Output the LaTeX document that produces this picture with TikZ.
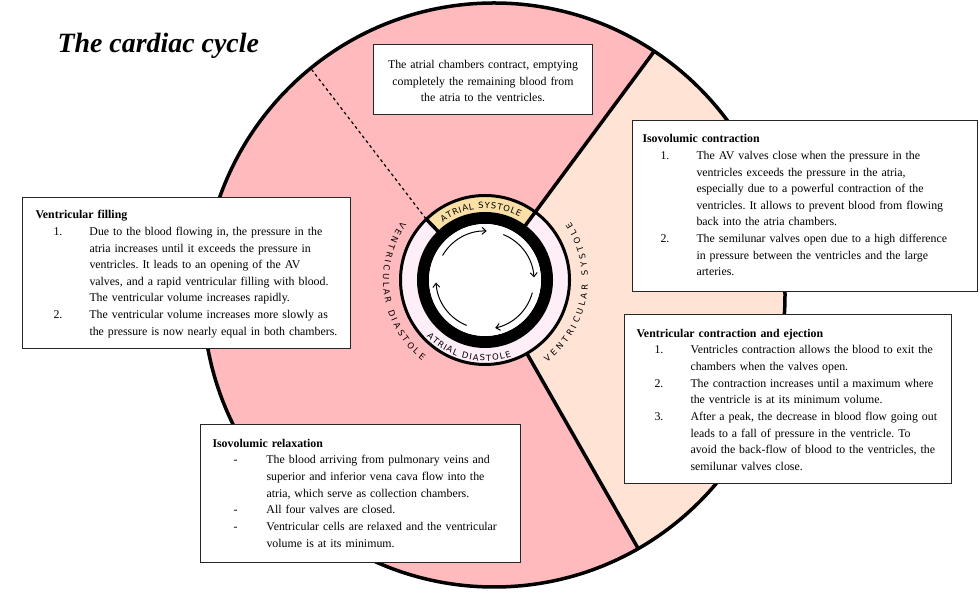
\documentclass[tikz,border=0pt]{standalone}
\usepackage{fontspec}
\setmainfont{Liberation Serif}
\newfontfamily\ringfamily{DejaVu Sans}
\usetikzlibrary{arrows.meta,positioning,calc,decorations.text}

\definecolor{cyclepink}{RGB}{255,186,189}
\definecolor{cyclepeach}{RGB}{255,228,214}
\definecolor{bandlilac}{RGB}{253,238,248}
\definecolor{bandyellow}{RGB}{250,224,166}

\newcommand{\boxfont}{\fontsize{11.9}{16.7}\selectfont\frenchspacing}
\newcommand{\ringfont}{\ringfamily\fontsize{8.5}{10}\selectfont}
\newcommand{\stageitem}[3][18bp]{\par\hangindent=54bp\hangafter=1\noindent\hspace*{#1}\makebox[\dimexpr54bp-#1\relax][l]{#2}#3}

\begin{document}
\begin{tikzpicture}[x=1bp,y=1bp,>={Straight Barb[length=4bp,width=7bp]},
  stagebox/.style={draw=black!85,line width=1bp,fill=white,anchor=north west,inner sep=0pt,font=\boxfont},
  ringtext/.style={decorate,decoration={text along path,text={|\ringfont|#1},text align=fit to path}}]
  \useasboundingbox (0,0) rectangle (980,592);
  \coordinate (ring) at (485,312);
  \coordinate (dashend) at (312,522);
  \begin{scope}
    \clip (494,297) ellipse [x radius=291,y radius=292];
    \fill[cyclepink] (0,0) rectangle (980,592);
    \fill[cyclepeach] (ring) -- ++(53.5:420) arc[start angle=53.5,end angle=-60.3,radius=420] -- cycle;
    \draw[line width=3.5bp] (ring) -- ++(53.5:420);
    \draw[line width=3.5bp] (ring) -- ++(-60.3:420);
  \end{scope}
  \draw[line width=3.5bp] (494,297) ellipse [x radius=291,y radius=292];
  \draw[dashed,line width=1.2bp] ([shift={(134:85)}]ring) -- (dashend);

  \fill[bandlilac] (ring) circle[radius=84];
  \fill[bandyellow] ([shift={(53.5:68)}]ring) arc[start angle=53.5,end angle=134,radius=68]
    -- ([shift={(134:84)}]ring) arc[start angle=134,end angle=53.5,radius=84] -- cycle;
  \draw[line width=12bp] (ring) circle[radius=62];
  \fill[white] (ring) circle[radius=56];
  \draw[line width=3bp] (ring) circle[radius=84.5];
  \draw[line width=3.5bp] ([shift={(53.5:66)}]ring) -- ([shift={(53.5:86)}]ring);
  \draw[line width=3.5bp] ([shift={(134:66)}]ring) -- ([shift={(134:86)}]ring);
  \foreach \a/\b in {150/88,68/3,-15/-78,-112/-177}
    \draw[->,line width=1bp] ([shift={(\a:49)}]ring) arc[start angle=\a,end angle=\b,radius=49];

  \path[ringtext={ATRIAL SYSTOLE}] ([shift={(126:71.5)}]ring) arc[start angle=126,end angle=61,radius=71.5];
  \path[ringtext={ATRIAL DIASTOLE}] ([shift={(-136:81)}]ring) arc[start angle=-136,end angle=-71,radius=81];
  \path[ringtext={VENTRICULAR SYSTOLE}] ([shift={(-53:103)}]ring) arc[start angle=-53,end angle=34,radius=103];
  \path[ringtext={VENTRICULAR DIASTOLE}] ([shift={(145:102)}]ring) arc[start angle=145,end angle=232,radius=102];

  \node[anchor=base west,font=\fontsize{28}{32}\selectfont\bfseries\itshape] (title) at (54,539) {The cardiac cycle};

  \node[stagebox,text width=219bp,text height=24bp,text depth=46bp,align=center] (atrial) at (373,548)
    {The atrial chambers contract, emptying\\completely the remaining blood from\\the atria to the ventricles.};
  \node[stagebox,text width=328bp,text height=21.3bp,text depth=129.7bp] (filling) at (22,395)
    {\leftskip=13bp\relax\textbf{Ventricular filling}
     \stageitem{1.}{Due to the blood flowing in, the pressure in the\newline atria increases until it exceeds the pressure in\newline ventricles. It leads to an opening of the AV\newline valves, and a rapid ventricular filling with blood.\newline The ventricular volume increases rapidly.}
     \stageitem{2.}{The ventricular volume increases more slowly as\newline the pressure is now nearly equal in both chambers.}\par};
  \node[stagebox,text width=345bp,text height=22.3bp,text depth=148.7bp] (contraction) at (632,472)
    {\leftskip=10bp\relax\textbf{Isovolumic contraction}
     \stageitem{1.}{The AV valves close when the pressure in the\newline ventricles exceeds the pressure in the atria,\newline especially due to a powerful contraction of the\newline ventricles. It allows to prevent blood from flowing\newline back into the atria chambers.}
     \stageitem{2.}{The semilunar valves open due to a high difference\newline in pressure between the ventricles and the large\newline arteries.}\par};
  \node[stagebox,text width=327bp,text height=22.7bp,text depth=146.3bp] (ejection) at (624,278)
    {\leftskip=12bp\relax\textbf{Ventricular contraction and ejection}
     \stageitem{1.}{Ventricles contraction allows the blood to exit the\newline chambers when the valves open.}
     \stageitem{2.}{The contraction increases until a maximum where\newline the ventricle is at its minimum volume.}
     \stageitem{3.}{After a peak, the decrease in blood flow going out\newline leads to a fall of pressure in the ventricle. To\newline avoid the back-flow of blood to the ventricles, the\newline semilunar valves close.}\par};
  \node[stagebox,text width=320bp,text height=22.7bp,text depth=115.3bp] (relaxation) at (200,168)
    {\leftskip=12bp\relax\textbf{Isovolumic relaxation}
     \stageitem[21bp]{-}{The blood arriving from pulmonary veins and\newline superior and inferior vena cava flow into the\newline atria, which serve as collection chambers.}
     \stageitem[21bp]{-}{All four valves are closed.}
     \stageitem[21bp]{-}{Ventricular cells are relaxed and the ventricular\newline volume is at its minimum.}\par};
\end{tikzpicture}
\end{document}
